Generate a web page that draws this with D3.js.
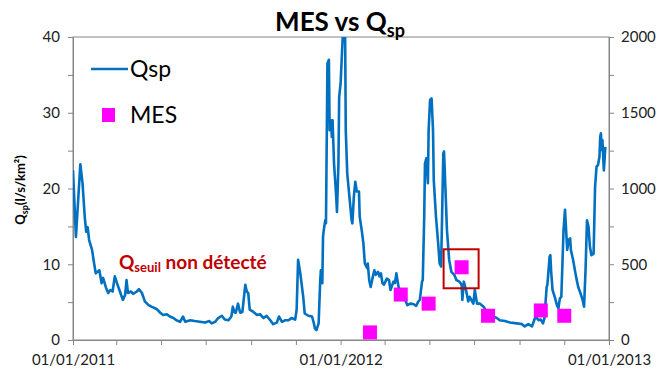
<!DOCTYPE html>
<html>
<head>
<meta charset="utf-8">
<script src="https://cdn.jsdelivr.net/npm/d3@7"></script>
<style>
  body { margin: 0; background: #fff; }
  text { font-family: Lato, "Open Sans", sans-serif; }
</style>
</head>
<body>
<div id="chart"></div>
<script>
// Qsp (l/s/km2), days counted from 01/01/2011
const qspDay = [0,4,10,13,16,18,20,22,26,28,31,36,39,41,45,48,51,54,57,60,64,68,71,73,75,79,82,87,90,94,98,103,107,114,119,123,128,132,137,141,146,150,153,160,166,173,180,186,189,194,198,203,207,212,216,218,220,222,225,228,231,235,237,239,241,246,251,255,260,264,269,273,278,281,285,289,294,298,303,305,307,310,314,316,321,326,328,330,332,335,337,338,340,341,342,344,345,347,349,350,352,353,354,356,359,360,362,363,365,367,369,371,372,374,377,380,381,383,385,387,390,391,394,396,398,401,402,404,406,409,411,413,416,418,420,422,424,428,431,433,437,439,441,444,448,453,456,460,464,468,471,473,476,477,479,480,482,484,485,487,489,491,492,495,498,500,502,503,505,506,508,510,513,516,520,523,527,530,531,533,536,539,541,546,548,551,555,560,564,569,573,578,582,589,596,605,612,616,621,626,629,631,635,638,641,643,645,646,647,650,651,652,654,657,660,662,664,666,669,671,672,674,676,678,679,682,686,689,692,695,697,699,701,703,705,707,710,711,712,714,716,718,719,720,721,722,724,726];
const qspVal = [22.4,13.6,23.2,20.7,16.3,14.3,14.9,13.2,11.9,10.6,8.8,9.2,7.5,8.2,6.9,6.2,6.6,6.4,8.4,7.5,6.4,5.3,5.9,7.9,6.2,6.4,6.1,6.4,6.7,6.2,5.1,4.6,4.4,4.1,3.6,3.3,3.4,3.1,2.9,2.6,2.4,3.1,2.4,2.6,2.5,2.4,2.3,2.5,2.2,2.4,2.9,3.2,2.7,2.6,3.1,4.4,3.7,3.6,4.8,3.6,3.7,7.3,6.4,6.2,4.0,3.7,3.3,3.4,2.9,3.2,2.6,2.1,2.3,3.1,2.4,2.6,2.6,2.9,2.7,4.0,10.6,8.8,5.7,3.5,3.2,3.1,2.4,1.5,1.3,2.2,7.5,9.2,7.5,13.6,14.5,15.8,15.4,36.5,37.0,27.7,29.0,26.8,29.0,23.3,18.9,16.9,23.3,32.1,33.9,38.3,42,42,27.7,22.0,18.9,15.8,15.4,18.9,20.9,19.6,19.6,16.3,14.3,12.8,10.1,9.5,10.1,7.9,7.0,8.4,9.2,8.6,9.0,8.4,8.8,7.5,7.3,8.1,7.9,6.6,7.7,7.5,8.8,7.0,6.2,5.3,4.6,4.8,4.75,4.5,5.1,5.3,7.7,7.9,16.3,23.3,24.0,20.7,27.7,31.7,31.9,27.7,21.1,16.3,12.8,10.1,9.7,14.5,24.6,24.9,19.8,14.5,10.6,9.0,8.6,7.9,7.7,7.3,5.3,7.7,6.6,5.1,5.7,4.8,6.6,4.8,4.8,4.4,3.7,3.3,3.1,2.9,2.6,2.5,2.3,2.2,2.1,1.8,2.1,1.8,2.6,3.1,2.6,2.7,2.2,2.9,5.7,7.0,7.3,11.0,11.2,9.2,6.6,5.7,4.6,4.2,5.5,5.7,14.5,17.2,15.4,11.9,13.2,13.4,11.9,10.6,8.4,7.0,6.2,5.3,4.4,9.2,15.8,15.0,12.3,11.2,11.4,15.8,20.2,22.9,23.1,24.2,26.8,27.3,25.1,26.4,22.4,25.5];

// MES samples (right axis)
const mesDate = ["2012-02-10","2012-03-23","2012-04-30","2012-06-14","2012-07-20","2012-09-30","2012-11-01"];
const mesVal = [50,300,240,480,160,195,160];
const highlighted = 3; // sample framed in red

const leftTicks = [0,5,10,15,20,25,30,35,40];
const rightTicks = [0,250,500,750,1000,1250,1500,1750,2000];

const W = 664, H = 377;
const margin = {top: 37, right: 55, bottom: 37, left: 73};
const start = new Date(Date.UTC(2011,0,1));
const end = new Date(Date.UTC(2013,0,1));

const svg = d3.select("#chart").append("svg")
  .attr("width", W)
  .attr("height", H);

const x = d3.scaleUtc().domain([start, end]).range([margin.left, W - margin.right]);
const y = d3.scaleLinear().domain([0, 40]).range([H - margin.bottom, margin.top]);
const yR = d3.scaleLinear().domain([0, 2000]).range([H - margin.bottom, margin.top]);

const axisColor = "#868686";

// frame
svg.append("rect")
  .attr("x", margin.left).attr("y", margin.top)
  .attr("width", W - margin.left - margin.right)
  .attr("height", H - margin.top - margin.bottom)
  .attr("fill", "none").attr("stroke", axisColor).attr("stroke-width", 1);

const styleAxis = g => {
  g.select(".domain").attr("stroke", axisColor);
  g.selectAll(".tick line").attr("stroke", axisColor);
  g.selectAll(".tick text").attr("fill", "#222").style("font-size", "15px");
};

svg.append("g")
  .attr("transform", `translate(0,${H - margin.bottom})`)
  .call(d3.axisBottom(x)
    .ticks(d3.utcMonth.every(2))
    .tickSize(5)
    .tickPadding(9)
    .tickFormat(d => d.getUTCMonth() == 0 ? d3.utcFormat("%d/%m/%Y")(d) : ""))
  .call(styleAxis);

svg.append("g")
  .attr("transform", `translate(${margin.left},0)`)
  .call(d3.axisLeft(y).tickValues(leftTicks).tickSize(5).tickPadding(8)
    .tickFormat(d => d % 10 == 0 ? d : ""))
  .call(styleAxis);

svg.append("g")
  .attr("transform", `translate(${W - margin.right},0)`)
  .call(d3.axisRight(yR).tickValues(rightTicks).tickSize(5).tickPadding(7)
    .tickFormat(d => d % 500 == 0 ? d : ""))
  .call(styleAxis);

// clip to plot area
svg.append("clipPath").attr("id", "plot")
  .append("rect")
  .attr("x", margin.left).attr("y", margin.top)
  .attr("width", W - margin.left - margin.right)
  .attr("height", H - margin.top - margin.bottom);

const qsp = qspDay.map((d, i) => ({date: d3.utcDay.offset(start, d), v: qspVal[i]}));

const line = d3.line()
  .x(d => x(d.date))
  .y(d => y(d.v));

svg.append("path")
  .datum(qsp)
  .attr("clip-path", "url(#plot)")
  .attr("fill", "none")
  .attr("stroke", "#0070C0")
  .attr("stroke-width", 2.6)
  .attr("stroke-linejoin", "round")
  .attr("d", line);

const parse = d3.utcParse("%Y-%m-%d");
const mes = mesDate.map((d, i) => ({date: parse(d), v: mesVal[i]}));
const sq = 14;

svg.selectAll(".mes")
  .data(mes)
  .enter()
  .append("rect")
  .attr("class", "mes")
  .attr("x", d => x(d.date) - sq/2)
  .attr("y", d => yR(d.v) - sq/2)
  .attr("width", sq)
  .attr("height", sq)
  .attr("fill", "#FF00FF");

// red frame around one sample
const hp = mes[highlighted];
svg.append("rect")
  .attr("x", x(hp.date) - 18)
  .attr("y", yR(hp.v) - 18)
  .attr("width", 35)
  .attr("height", 39)
  .attr("fill", "none")
  .attr("stroke", "#C00000")
  .attr("stroke-width", 2);

// title
const title = svg.append("text")
  .attr("x", 340).attr("y", 31)
  .attr("text-anchor", "middle")
  .style("font-size", "26px").style("font-weight", "bold")
  .attr("fill", "#000");
title.append("tspan").text("MES vs Q");
title.append("tspan").attr("dy", 6).style("font-size", "18px").text("sp");

// y title
const yt = svg.append("text")
  .attr("transform", "translate(25,190) rotate(-90)")
  .attr("text-anchor", "middle")
  .style("font-size", "13px").style("font-weight", "bold")
  .attr("fill", "#000");
yt.append("tspan").text("Q");
yt.append("tspan").attr("dy", 3).style("font-size", "9px").text("sp");
yt.append("tspan").attr("dy", -3).text("(l/s/km²)");

// legend
svg.append("line")
  .attr("x1", 91).attr("x2", 128).attr("y1", 69).attr("y2", 69)
  .attr("stroke", "#0070C0").attr("stroke-width", 2.6);
svg.append("text").attr("x", 130).attr("y", 77)
  .style("font-size", "23px").attr("fill", "#000").text("Qsp");
svg.append("rect").attr("x", 102).attr("y", 108).attr("width", 13).attr("height", 14)
  .attr("fill", "#FF00FF");
svg.append("text").attr("x", 130).attr("y", 123)
  .style("font-size", "23px").attr("fill", "#000").text("MES");

// annotation
const ann = svg.append("text")
  .attr("x", 119).attr("y", 269)
  .style("font-size", "19px").style("font-weight", "bold")
  .attr("fill", "#C00000");
ann.append("tspan").text("Q");
ann.append("tspan").attr("dy", 3).style("font-size", "13px").text("seuil");
ann.append("tspan").attr("dy", -3).text(" non détecté");
</script>
</body>
</html>
